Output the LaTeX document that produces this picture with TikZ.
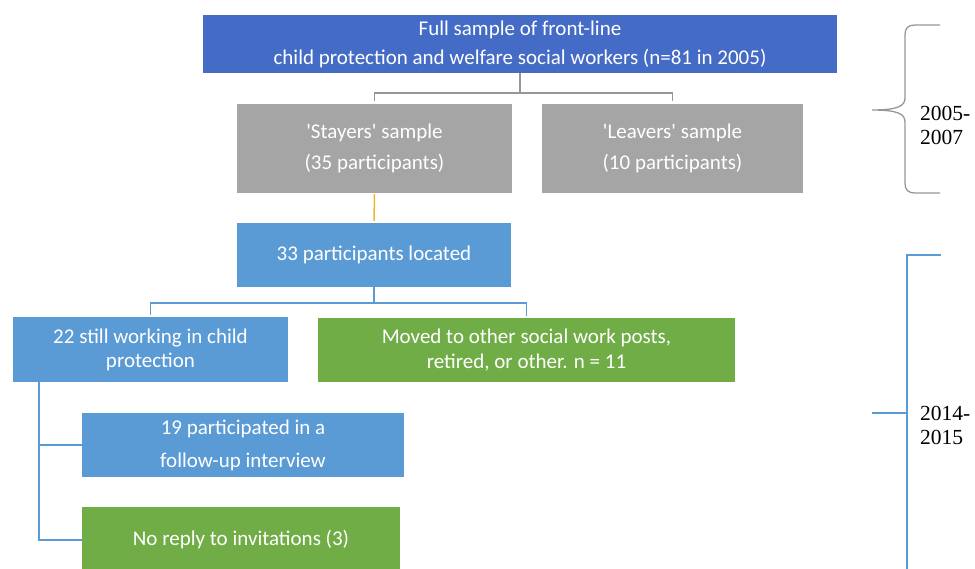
\documentclass[tikz,border=0pt]{standalone}
\usepackage{fontspec}
\setmainfont{Carlito}
\newfontfamily\yearfont{Liberation Serif}
\usetikzlibrary{positioning}

\definecolor{darkblue}{RGB}{68,107,197}
\definecolor{midblue}{RGB}{91,155,213}
\definecolor{boxgray}{RGB}{165,165,165}
\definecolor{boxgreen}{RGB}{112,173,71}
\definecolor{linegray}{RGB}{150,150,150}
\definecolor{lineorange}{RGB}{240,180,50}

\tikzset{
  box/.style={text=white,align=center,inner sep=0pt,font=\fontsize{21}{25}\selectfont},
  conn/.style={line width=1.5pt},
  year/.style={anchor=west,align=left,inner sep=0pt,font=\yearfont\fontsize{21.5}{24}\selectfont}
}

\begin{document}
\begin{tikzpicture}[x=1pt,y=-1pt]
    \useasboundingbox (0,0) rectangle (975,568);

    % 2005-2007 samples
    \node[box,fill=darkblue,minimum width=634pt,minimum height=58pt] (full) at (520,44)
        {Full sample of front-line\\[4pt]child protection and welfare social workers (n=81 in 2005)};
    \node[box,fill=boxgray,minimum width=275pt,minimum height=89pt] (stayers) at (374.5,148.5)
        {\textquotesingle Stayers\textquotesingle{} sample\\[6pt](35 participants)};
    \node[box,fill=boxgray,minimum width=261pt,minimum height=89pt] (leavers) at (672.5,148.5)
        {\textquotesingle Leavers\textquotesingle{} sample\\[6pt](10 participants)};

    % 2014-2015 follow-up
    \node[box,fill=midblue,minimum width=274pt,minimum height=64pt] (located) at (374,255)
        {33 participants located};
    \node[box,fill=midblue,minimum width=275pt,minimum height=65pt] (working) at (150.5,349.5)
        {22 still working in child\\[-1pt]protection};
    \node[box,fill=boxgreen,minimum width=417pt,minimum height=64pt] (moved) at (526.5,350)
        {Moved to other social work posts,\\retired, or other. n = 11};
    \node[box,fill=midblue,minimum width=322pt,minimum height=64pt] (interview) at (243,445)
        {19 participated in a\\[8pt]follow-up interview};
    \node[box,fill=boxgreen,minimum width=318pt,minimum height=66pt] (noreply) at (241,540)
        {No reply to invitations (3)};

    % Connectors
    \draw[conn,linegray,shorten >=3pt] (full.south) -- ++(0,20) -| (stayers.north);
    \draw[conn,linegray,shorten >=3pt] (full.south) ++(0,20) -| (leavers.north);
    \draw[conn,lineorange,shorten <=1pt,shorten >=2pt] (stayers.south) -- (located.north);
    \draw[conn,midblue,shorten >=2pt] (located.south) -- ++(0,16) -| (working.north);
    \draw[conn,midblue,shorten >=2pt] (located.south) ++(0,16) -| (moved.north);
    \coordinate (split) at ([xshift=26pt,yshift=3pt]working.south west);
    \draw[conn,midblue] (split) |- (interview.west);
    \draw[conn,midblue] (split) |- (noreply.west);

    % Time periods
    \draw[linegray,line width=1.3pt] (940,25) -- (915,25) .. controls (908,25) and (905,28) .. (905,35)
        -- (905,98) .. controls (905,106) and (898,110) .. (872,110)
        .. controls (898,110) and (905,114) .. (905,122) -- (905,183)
        .. controls (905,190) and (908,193) .. (915,193) -- (940,193);
    \node[year] (early) at (920,125) {2005-\\2007};

    \draw[midblue,line width=1.3pt] (941,255) -- (907,255) -- (907,572);
    \draw[midblue,line width=1.3pt] (872,413) -- (907,413);
    \node[year] (late) at (920,425) {2014-\\2015};
\end{tikzpicture}
\end{document}
